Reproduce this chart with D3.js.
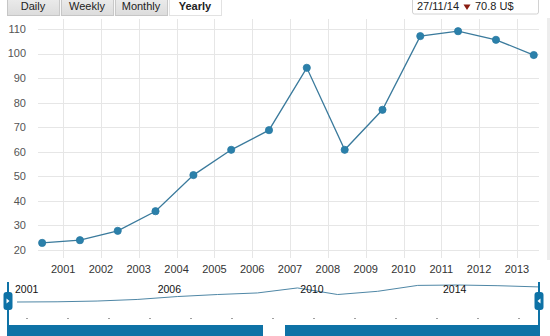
<!DOCTYPE html>
<html>
<head>
<meta charset="utf-8">
<script src="https://cdn.jsdelivr.net/npm/d3@7"></script>
<style>
  html, body { margin: 0; padding: 0; background: #fff; }
  svg { display: block; font-family: "Liberation Sans", Arial, Helvetica, sans-serif; }
</style>
</head>
<body>
<svg id="chart" width="550" height="336"></svg>
<script>
// ---- data ----
const years = [2000, 2001, 2002, 2003, 2004, 2005, 2006, 2007, 2008, 2009, 2010, 2011, 2012, 2013];
const values = [22.9, 24.0, 27.8, 35.8, 50.5, 60.8, 68.8, 94.2, 60.8, 77.1, 107.1, 109.1, 105.6, 99.4];
const xTickYears = [2001, 2002, 2003, 2004, 2005, 2006, 2007, 2008, 2009, 2010, 2011, 2012, 2013];
const yTicks = [20, 30, 40, 50, 60, 70, 80, 90, 100, 110];
const tabs = ["Daily", "Weekly", "Monthly", "Yearly"];
const selectedTab = "Yearly";
const infoDate = "27/11/14";
const infoValue = "70.8 U$";
const navLabels = ["2001", "2006", "2010", "2014"];
const navDashCount = 13;

// ---- setup ----
const svg = d3.select("#chart");
const pointDate = y => new Date(y, 5, 12);
const data = years.map((y, i) => ({ date: pointDate(y), value: values[i] }));

const x = d3.scaleTime()
  .domain([new Date(2000, 4, 3), new Date(2013, 6, 23)])
  .range([38, 538]);
const y = d3.scaleLinear().domain([20, 110]).range([250, 29]);

// right faint band
svg.append("rect").attr("x", 547).attr("y", 18).attr("width", 3).attr("height", 242).attr("fill", "#ededed");

// ---- grid ----
const grid = svg.append("g");
grid.selectAll("line.h").data(yTicks).join("line")
  .attr("x1", 38).attr("x2", 539)
  .attr("y1", d => Math.round(y(d)) + 0.5).attr("y2", d => Math.round(y(d)) + 0.5)
  .attr("stroke", "#e6e6e6");
grid.selectAll("line.v").data(xTickYears).join("line")
  .attr("x1", d => Math.round(x(new Date(d, 0, 1))) + 0.5)
  .attr("x2", d => Math.round(x(new Date(d, 0, 1))) + 0.5)
  .attr("y1", 19).attr("y2", 258)
  .attr("stroke", "#e6e6e6");

// ---- axes labels ----
svg.append("g").selectAll("text").data(yTicks).join("text")
  .attr("x", 26).attr("y", d => y(d)).attr("dy", "0.35em")
  .attr("text-anchor", "end").attr("font-size", 11).attr("fill", "#555")
  .text(d => d);

svg.append("g").selectAll("text").data(xTickYears).join("text")
  .attr("x", d => x(new Date(d, 0, 1))).attr("y", 273)
  .attr("text-anchor", "middle").attr("font-size", 11).attr("fill", "#333")
  .text(d => d);

// ---- series ----
const line = d3.line().x(d => x(d.date)).y(d => y(d.value));
svg.append("path").datum(data)
  .attr("d", line).attr("fill", "none")
  .attr("stroke", "#3a7a9c").attr("stroke-width", 1.3);
svg.append("g").selectAll("circle").data(data).join("circle")
  .attr("cx", d => x(d.date)).attr("cy", d => y(d.value)).attr("r", 3.6)
  .attr("fill", "#2b80aa").attr("stroke", "#2a7aa3").attr("stroke-width", 0.8);

// ---- tabs ----
const tabX = d3.scaleBand().domain(tabs).range([7, 221]).paddingInner(0.035);
const tg = svg.append("g");
const defs = svg.append("defs");
const grad = defs.append("linearGradient").attr("id", "tabGrad").attr("x1", 0).attr("y1", 0).attr("x2", 0).attr("y2", 1);
grad.append("stop").attr("offset", "0%").attr("stop-color", "#ededed");
grad.append("stop").attr("offset", "100%").attr("stop-color", "#dcdcdc");
tg.selectAll("rect").data(tabs).join("rect")
  .attr("x", d => tabX(d) + 0.5).attr("y", -3.5)
  .attr("width", tabX.bandwidth()).attr("height", 19)
  .attr("fill", d => d === selectedTab ? "#fff" : "url(#tabGrad)")
  .attr("stroke", d => d === selectedTab ? "#e2e2e2" : "#c6c6c6");
tg.selectAll("text").data(tabs).join("text")
  .attr("x", d => tabX(d) + tabX.bandwidth() / 2).attr("y", 9.5)
  .attr("text-anchor", "middle").attr("font-size", 11).attr("fill", "#222")
  .attr("font-weight", d => d === selectedTab ? "bold" : "normal")
  .text(d => d);

// ---- info box ----
const ib = svg.append("g");
ib.append("rect").attr("x", 412.5).attr("y", -4.5).attr("width", 126).attr("height", 18.5)
  .attr("rx", 2).attr("fill", "#fff").attr("stroke", "#d2d2d2");
ib.append("text").attr("x", 417).attr("y", 9.5).attr("font-size", 11).attr("fill", "#222").text(infoDate);
ib.append("path").attr("d", "M463.5,4.5 L470.5,4.5 L467,10 Z").attr("fill", "#8a1c10");
ib.append("text").attr("x", 475).attr("y", 9.5).attr("font-size", 11).attr("fill", "#222").text(infoValue);

// ---- navigator ----
const navX = d3.scaleTime().domain(d3.extent(data, d => d.date)).range([17, 538]);
const navY = d3.scaleLinear().domain(d3.extent(values)).range([302, 285]);
const nav = svg.append("g");

const navLine = d3.line().x(d => navX(d.date)).y(d => navY(d.value));
nav.append("path").datum(data).attr("d", navLine).attr("fill", "none")
  .attr("stroke", "#4f87a6").attr("stroke-width", 1);

const navLab = d3.scalePoint().domain(navLabels).range([15, 443]);
nav.selectAll("text").data(navLabels).join("text")
  .attr("x", d => navLab(d)).attr("y", 293)
  .attr("font-size", 10.5).attr("fill", "#111")
  .text(d => d);

const dashX = d3.scaleLinear().domain([0, navDashCount - 1]).range([27, 519]);
nav.selectAll("rect.dash").data(d3.range(navDashCount)).join("rect")
  .attr("x", d => dashX(d) - 1).attr("y", 318).attr("width", 2).attr("height", 1)
  .attr("fill", "#a0a0a0");

// scrollbar pieces
const blue = "#0e72a6";
nav.append("rect").attr("x", 7).attr("y", 325).attr("width", 256).attr("height", 11).attr("fill", blue);
nav.append("rect").attr("x", 285).attr("y", 325).attr("width", 255).attr("height", 11).attr("fill", blue);

// handles
function handle(cx, dir) {
  nav.append("line").attr("x1", cx).attr("x2", cx).attr("y1", 282).attr("y2", 336)
    .attr("stroke", blue).attr("stroke-width", 2);
  nav.append("rect").attr("x", cx - 4.5).attr("y", 292).attr("width", 9).attr("height", 18)
    .attr("rx", 3).attr("fill", blue);
  const t = dir > 0
    ? `M${cx - 1.5},${298.5} L${cx + 1.5},${301} L${cx - 1.5},${303.5} Z`
    : `M${cx + 1.5},${298.5} L${cx - 1.5},${301} L${cx + 1.5},${303.5} Z`;
  nav.append("path").attr("d", t).attr("fill", "#fff");
}
handle(8, 1);
handle(539, -1);
</script>
</body>
</html>
